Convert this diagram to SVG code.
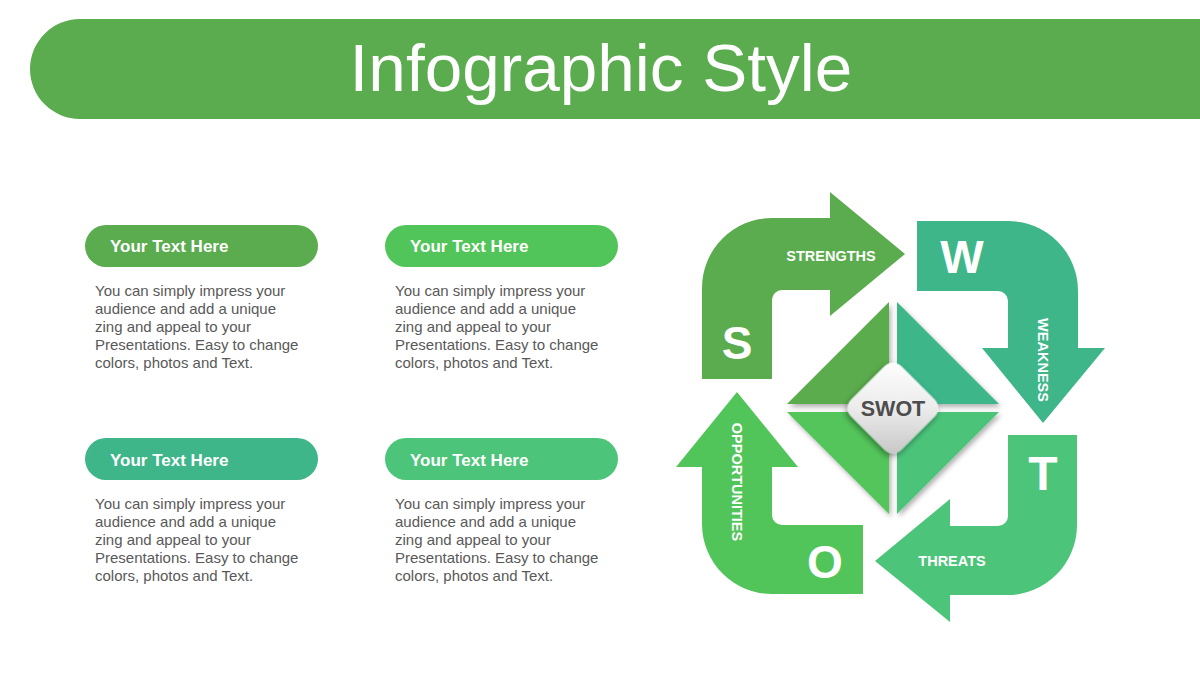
<svg xmlns="http://www.w3.org/2000/svg" width="1200" height="675" viewBox="0 0 1200 675">
  <defs>
    <style>
      .title { font-family: "Liberation Sans", Arial, sans-serif; font-size: 67.5px; fill: #ffffff; }
      .pilltxt { font-family: "Liberation Sans", Arial, sans-serif; font-size: 17px; font-weight: bold; fill: #ffffff; }
      .body { font-family: "Liberation Sans", Arial, sans-serif; font-size: 15px; fill: #595959; }
      .lbl { font-family: "Liberation Sans", Arial, sans-serif; font-size: 14.5px; font-weight: bold; fill: #ffffff; }
      .big { font-family: "Liberation Sans", Arial, sans-serif; font-size: 46px; font-weight: bold; fill: #ffffff; text-anchor: middle; }
      .swot { font-family: "Liberation Sans", Arial, sans-serif; font-size: 21.5px; font-weight: bold; fill: #4d4d4d; text-anchor: middle; }
      .cS { fill: #5aac4e; }
      .cW { fill: #3eb68a; }
      .cT { fill: #4cc47a; }
      .cO { fill: #52c55a; }
    </style>
    <filter id="sh" x="-20%" y="-20%" width="140%" height="140%">
      <feDropShadow dx="2" dy="3" stdDeviation="2.5" flood-color="#000000" flood-opacity="0.3"/>
    </filter>
    <filter id="sh2" x="-30%" y="-30%" width="160%" height="160%">
      <feDropShadow dx="1" dy="3" stdDeviation="3" flood-color="#000000" flood-opacity="0.4"/>
    </filter>
    <linearGradient id="gc" x1="0" y1="0" x2="1" y2="1">
      <stop offset="0" stop-color="#ffffff"/>
      <stop offset="0.5" stop-color="#ececec"/>
      <stop offset="1" stop-color="#c4c4c4"/>
    </linearGradient>
  </defs>

  <g id="header">
    <path d="M80,19 L1200,19 L1200,119 L80,119 A50,50 0 0 1 80,19 Z" class="cS"/>
    <text class="title" x="601" y="91" text-anchor="middle">Infographic Style</text>
  </g>

  <g id="box1">
    <rect x="85" y="225" width="233" height="42" rx="21" class="cS"/>
    <text class="pilltxt" x="110" y="252">Your Text Here</text>
    <text class="body" x="95" y="296">
      <tspan x="95" y="296">You can simply impress your</tspan>
      <tspan x="95" y="314">audience and add a unique</tspan>
      <tspan x="95" y="332">zing and appeal to your</tspan>
      <tspan x="95" y="350">Presentations. Easy to change</tspan>
      <tspan x="95" y="368">colors, photos and Text.</tspan>
    </text>
  </g>
  <g id="box2">
    <rect x="385" y="225" width="233" height="42" rx="21" class="cO"/>
    <text class="pilltxt" x="410" y="252">Your Text Here</text>
    <text class="body" x="395" y="296">
      <tspan x="395" y="296">You can simply impress your</tspan>
      <tspan x="395" y="314">audience and add a unique</tspan>
      <tspan x="395" y="332">zing and appeal to your</tspan>
      <tspan x="395" y="350">Presentations. Easy to change</tspan>
      <tspan x="395" y="368">colors, photos and Text.</tspan>
    </text>
  </g>
  <g id="box3">
    <rect x="85" y="438" width="233" height="42" rx="21" class="cW"/>
    <text class="pilltxt" x="110" y="466">Your Text Here</text>
    <text class="body" x="95" y="509">
      <tspan x="95" y="509">You can simply impress your</tspan>
      <tspan x="95" y="527">audience and add a unique</tspan>
      <tspan x="95" y="545">zing and appeal to your</tspan>
      <tspan x="95" y="563">Presentations. Easy to change</tspan>
      <tspan x="95" y="581">colors, photos and Text.</tspan>
    </text>
  </g>
  <g id="box4">
    <rect x="385" y="438" width="233" height="42" rx="21" class="cT"/>
    <text class="pilltxt" x="410" y="466">Your Text Here</text>
    <text class="body" x="395" y="509">
      <tspan x="395" y="509">You can simply impress your</tspan>
      <tspan x="395" y="527">audience and add a unique</tspan>
      <tspan x="395" y="545">zing and appeal to your</tspan>
      <tspan x="395" y="563">Presentations. Easy to change</tspan>
      <tspan x="395" y="581">colors, photos and Text.</tspan>
    </text>
  </g>

  <g id="arrow-s">
    <path class="cS" d="M702,379 L702,288 A70,70 0 0 1 772,218 L830,218 L830,192 L905,254 L830,316 L830,290 L782,290 A10,10 0 0 0 772,300 L772,379 Z"/>
    <text class="lbl" x="831" y="261" text-anchor="middle">STRENGTHS</text>
    <text class="big" x="737" y="359">S</text>
  </g>
  <g id="arrow-w">
    <path class="cW" d="M917,221 L1008,221 A70,70 0 0 1 1078,291 L1078,348 L1105,348 L1043,423 L982,348 L1008,348 L1008,301 A10,10 0 0 0 998,291 L917,291 Z"/>
    <text class="lbl" transform="translate(1043,360) rotate(90)" x="0" y="5" text-anchor="middle">WEAKNESS</text>
    <text class="big" x="962" y="273">W</text>
  </g>
  <g id="arrow-t">
    <path class="cT" d="M1077,435 L1077,525 A70,70 0 0 1 1007,595 L950,595 L950,622 L875,561 L950,499 L950,526 L998,526 A10,10 0 0 0 1008,516 L1008,435 Z"/>
    <text class="lbl" x="952" y="566" text-anchor="middle">THREATS</text>
    <text class="big" x="1043" y="490" style="font-size:48px">T</text>
  </g>
  <g id="arrow-o">
    <path class="cO" d="M863,594 L772,594 A70,70 0 0 1 702,524 L702,467 L676,467 L737,392 L798,467 L772,467 L772,515 A10,10 0 0 0 782,525 L863,525 Z"/>
    <text class="lbl" transform="translate(737,482) rotate(90)" x="0" y="5" text-anchor="middle">OPPORTUNITIES</text>
    <text class="big" x="825" y="578">O</text>
  </g>

  <g id="swot-center">
    <g filter="url(#sh)">
      <polygon class="cS" points="787,404 889,302 889,404"/>
      <polygon class="cW" points="897,302 999,404 897,404"/>
      <polygon class="cO" points="787,412 889,412 889,514"/>
      <polygon class="cT" points="897,412 999,412 897,514"/>
    </g>
    <rect x="857.5" y="372.5" width="71" height="71" rx="12" fill="url(#gc)" filter="url(#sh2)" transform="rotate(45 893 408)"/>
    <text class="swot" x="893" y="416">SWOT</text>
  </g>
</svg>
